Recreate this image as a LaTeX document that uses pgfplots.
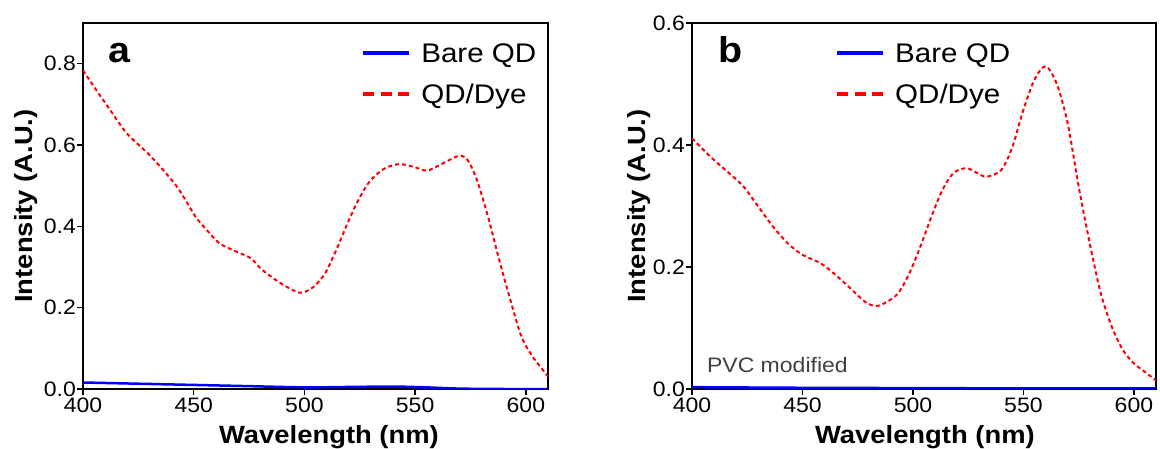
\documentclass[border=0pt]{standalone}
\usepackage{fontspec}
\setmainfont[FakeStretch=1.1]{Liberation Sans}
\usepackage{pgfplots}
\pgfplotsset{compat=1.18}
\definecolor{pvcgray}{RGB}{64,64,64}
\pgfplotsset{
  common/.style={
    scale only axis,
    anchor=south west,
    xmin=400, xmax=610, ymin=0,
    xtick={400,450,500,550,600},
    axis line style={line width=2bp},
    every tick/.style={black, line width=1.5bp},
    tick align=outside,
    major tick length=6bp,
    xtick pos=bottom, ytick pos=left,
    /pgf/number format/assume math mode=true,
    tick label style={font=\fontsize{21}{21}\selectfont},
    yticklabel style={/pgf/number format/fixed, /pgf/number format/fixed zerofill, /pgf/number format/precision=1, inner sep=1bp},
    xticklabel style={inner sep=3bp},
    label style={font=\fontsize{25}{25}\selectfont\bfseries},
    legend style={draw=none, fill=none, inner sep=0pt, row sep=20bp,
      nodes={inner sep=0pt, font=\fontsize{27}{27}\selectfont}},
    legend cell align=left,
    legend image code/.code={\draw[#1] (0bp,0bp) -- (46bp,0bp); \path (56bp,0bp);},
  },
  redcurve/.style={red, line width=2bp, dash pattern=on 4bp off 3bp, smooth},
  bluecurve/.style={blue, line width=2.5bp, smooth},
}
\begin{document}
\begin{tikzpicture}
\path[use as bounding box] (0,0) rectangle (1160bp,449bp);
% Panel a
\begin{axis}[common,
  at={(83bp,60bp)}, width=465bp, height=366bp,
  ymax=0.9, ytick={0,0.2,0.4,0.6,0.8},
  xlabel={Wavelength (nm)}, ylabel={Intensity (A.U.)},
  xlabel style={at={(axis description cs:0.529,-0.150)}, anchor=base},
  ylabel style={at={(axis description cs:-0.108,0.5)}, rotate=0, anchor=base},
  legend style={at={(axis description cs:0.598,0.861)}, anchor=west},
]
\addplot[bluecurve, forget plot] coordinates {(400,0.016)(425,0.013)(450,0.010)(475,0.007)(500,0.004)(520,0.005)(540,0.006)(555,0.004)(570,0.001)(590,0.0)(610,0.0)};
\addlegendimage{blue, line width=4bp}
\addlegendentry{Bare QD}
\addplot[redcurve, forget plot] coordinates {
(400,0.784)(406,0.735)(412.4,0.685)(419.9,0.628)(430.8,0.571)(442.5,0.497)(450.8,0.424)
(455.9,0.391)(461.7,0.358)(469.2,0.338)(475.9,0.321)(480.9,0.293)(489.3,0.260)(496.0,0.240)
(499.3,0.237)(504.3,0.252)(509.4,0.285)(514.4,0.342)(519.4,0.407)(524.4,0.465)(529.4,0.510)
(536.1,0.542)(542.8,0.553)(549.5,0.546)(555.3,0.537)(561.2,0.551)(569.6,0.573)(573.7,0.563)
(577.9,0.514)(582.9,0.424)(588.0,0.317)(593.0,0.219)(598.0,0.129)(603.0,0.080)(610,0.031)};
\addlegendimage{red, line width=4bp, dash pattern=on 11bp off 6.5bp}
\addlegendentry{QD/Dye}
\node[anchor=base west, font=\fontsize{36}{36}\selectfont\bfseries, inner sep=0] at (axis description cs:0.054,0.893) {a};
\end{axis}
% Panel b
\begin{axis}[common,
  at={(692bp,60bp)}, width=464bp, height=366bp,
  ymax=0.6, ytick={0,0.2,0.4,0.6},
  xlabel={Wavelength (nm)}, ylabel={Intensity (A.U.)},
  xlabel style={at={(axis description cs:0.502,-0.150)}, anchor=base},
  ylabel style={at={(axis description cs:-0.101,0.5)}, rotate=0, anchor=base},
  legend style={at={(axis description cs:0.308,0.861)}, anchor=west},
]
\addplot[bluecurve, forget plot] coordinates {(400,0.003)(450,0.002)(500,0.0015)(550,0.001)(610,0.001)};
\addlegendimage{blue, line width=4bp}
\addlegendentry{Bare QD}
\addplot[redcurve, forget plot] coordinates {
(400,0.411)(408.3,0.381)(416.7,0.354)(423.3,0.332)(430,0.299)(436.7,0.266)(443.3,0.239)
(450,0.220)(458.3,0.206)(465,0.187)(471.7,0.165)(478.3,0.143)(483.3,0.136)(488.3,0.143)
(493.3,0.157)(498.3,0.189)(503.3,0.233)(508.3,0.282)(513.3,0.326)(518.3,0.354)(524.2,0.362)
(529.2,0.354)(533.3,0.348)(540,0.359)(545,0.397)(550,0.458)(555,0.507)(560,0.529)(565,0.501)
(570,0.436)(575,0.332)(580,0.239)(585,0.157)(590,0.102)(595,0.064)(600,0.042)(605,0.028)(610,0.014)};
\addlegendimage{red, line width=4bp, dash pattern=on 11bp off 6.5bp}
\addlegendentry{QD/Dye}
\node[anchor=base west, font=\fontsize{36}{36}\selectfont\bfseries, inner sep=0] at (axis description cs:0.056,0.893) {b};
\node[anchor=base west, font=\fontsize{21}{21}\selectfont, text=pvcgray, inner sep=0] at (axis description cs:0.032,0.046) {PVC modified};
\end{axis}
\end{tikzpicture}
\end{document}
